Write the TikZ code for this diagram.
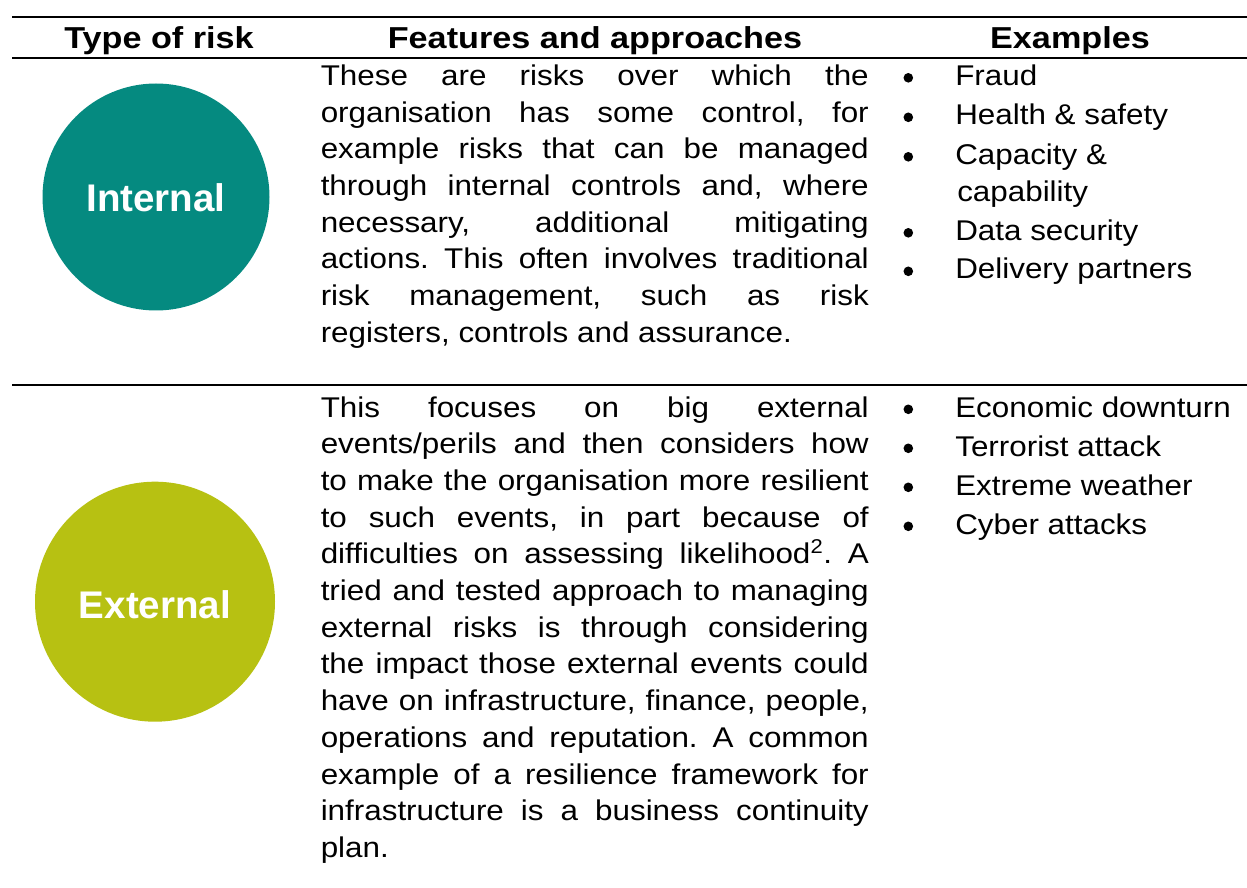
\documentclass[tikz,border=0pt]{standalone}
\usepackage{fontspec}
\setmainfont{Liberation Sans}
\newfontfamily\tabfont[FakeStretch=1.1]{Liberation Sans}
\newfontfamily\headfont[FakeStretch=1.13]{Liberation Sans}
\definecolor{intteal}{RGB}{5,138,128}
\definecolor{extlime}{RGB}{183,193,18}
\frenchspacing
\begin{document}
\begin{tikzpicture}[x=0.75pt,y=-0.75pt,
  tablerule/.style={line width=1.3pt, black},
  headtext/.style={font=\headfont\bfseries\fontsize{22.7}{27}\selectfont, anchor=base, inner sep=0},
  bodytext/.style={font=\frenchspacing\tabfont\fontsize{21.4}{27.5}\selectfont, anchor=base west, inner sep=0},
  risklabel/.style={font=\bfseries\fontsize{28.9}{34}\selectfont, text=white, anchor=base, inner sep=0},
  bulletdot/.style={circle, fill=black, inner sep=0, minimum size=7.2pt}
]
\useasboundingbox (0,0) rectangle (1247,888);
\fill[white] (0,0) rectangle (1247,888);

% table rules
\draw[tablerule] (12,16.7) -- (1247,16.7);
\draw[tablerule] (12,57.7) -- (1247,57.7);
\draw[tablerule] (12,385) -- (1247,385);

% headers
\node[headtext] (h1) at (159,48.3) {Type of risk};
\node[headtext] (h2) at (595,48.3) {Features and approaches};
\node[headtext] (h3) at (1070,48.3) {Examples};

% circles
\fill[intteal] (156,197) circle[radius=113.5];
\node[risklabel] (intl) at (156,211.7) {Internal};
\fill[extlime] (155,601.7) circle[radius=120];
\node[risklabel] (extl) at (155,618) {External};

% internal description
\foreach \t [count=\i] in {{These are risks over which the},
  {organisation has some control, for},
  {example risks that can be managed},
  {through internal controls and, where},
  {necessary, additional mitigating},
  {actions. This often involves traditional},
  {risk management, such as risk}}
  \node[bodytext] (int\i) at (320.5,{85.5+(\i-1)*36.7}) {\makebox[411pt][s]{\t}};
\node[bodytext] (int8) at (320.5,{85.5+7*36.7}) {registers, controls and assurance.};

% external description
\foreach \t [count=\i] in {{This focuses on big external},
  {events/perils and then considers how},
  {to make the organisation more resilient},
  {to such events, in part because of},
  {difficulties on assessing likelihood\textsuperscript{2}. A},
  {tried and tested approach to managing},
  {external risks is through considering},
  {the impact those external events could},
  {have on infrastructure, finance, people,},
  {operations and reputation. A common},
  {example of a resilience framework for},
  {infrastructure is a business continuity}}
  \node[bodytext] (ext\i) at (320.5,{417+(\i-1)*36.7}) {\makebox[411pt][s]{\t}};
\node[bodytext] (ext13) at (320.5,{417+12*36.7}) {plan.};

% internal examples
\node[bodytext] (ie1) at (955,85.5) {Fraud};
\node[bodytext] (ie2) at (955,125) {Health \& safety};
\node[bodytext] (ie3) at (955,164.5) {Capacity \&};
\node[bodytext] (ie3b) at (957,201.2) {capability};
\node[bodytext] (ie4) at (955,240.5) {Data security};
\node[bodytext] (ie5) at (955,279) {Delivery partners};
\foreach \yy [count=\i] in {85.5,125,164.5,240.5,279}
  \node[bulletdot] (ib\i) at (908.3,{\yy-7.7}) {};

% external examples
\node[bodytext] (ee1) at (955,417) {Economic downturn};
\node[bodytext] (ee2) at (955,456) {Terrorist attack};
\node[bodytext] (ee3) at (955,495) {Extreme weather};
\node[bodytext] (ee4) at (955,534) {Cyber attacks};
\foreach \yy [count=\i] in {417,456,495,534}
  \node[bulletdot] (eb\i) at (908.3,{\yy-7.7}) {};
\end{tikzpicture}
\end{document}
